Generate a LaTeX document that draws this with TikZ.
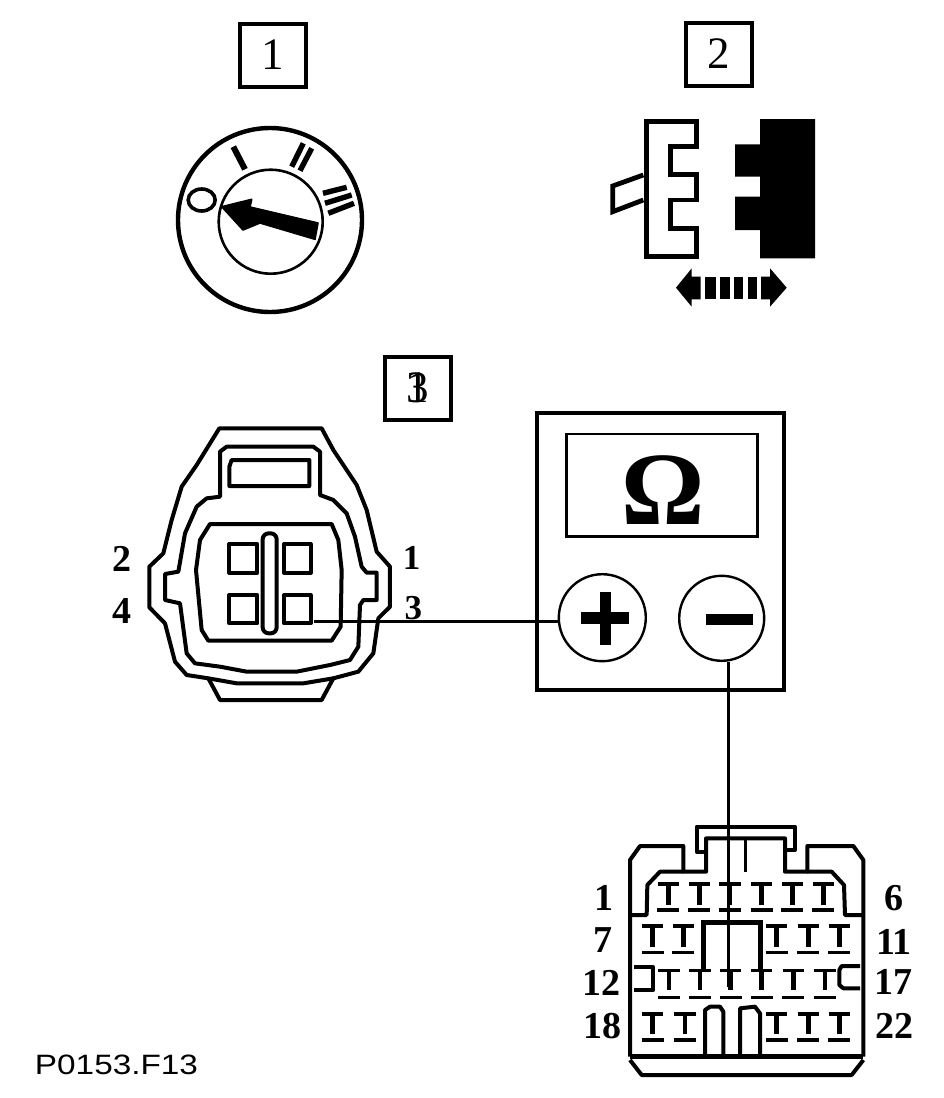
\documentclass[tikz,border=0pt]{standalone}
\usepackage{fontspec}
\setmainfont{Liberation Serif}
\newfontfamily\capfont{Liberation Sans}
\tikzset{
  x=1pt,y=-1pt,
  numbox/.style={draw,line width=4pt,minimum width=66pt,minimum height=63pt,inner sep=0pt,font=\fontsize{45}{45}\selectfont},
  boxnum/.style={inner sep=0pt,font=\fontsize{45}{45}\selectfont},
  pinlabel/.style={inner sep=0pt,font=\fontsize{38}{38}\bfseries\selectfont},
  pinlabelsmall/.style={inner sep=0pt,font=\fontsize{35}{35}\bfseries\selectfont},
  lead/.style={line width=3.6pt},
  terminal/.style={circle,draw,line width=2.4pt,inner sep=0pt},
  tbar/.style={line width=3.4pt},
  tstem/.style={line width=4.6pt},
  conn/.style={line width=4pt,line join=round},
}
\begin{document}
\begin{tikzpicture}
\useasboundingbox (0,0) rectangle (944,1098);
% --- box numbers
\node[numbox] (box1) at (272.5,55) {1};
\node[numbox] (box2) at (719,54) {2};
\node[numbox] (box3) at (417.5,388) {1};
\node[boxnum] (box3b) at (418,388) {3};

% --- step 1: key dial
\node[circle,draw,line width=4.4pt,minimum size=184pt,inner sep=0pt] (dial) at (270,220) {};
\node[circle,draw,line width=2.6pt,minimum size=104pt,inner sep=0pt] (dialhub) at (270.7,221.7) {};
\draw[line width=3.6pt] (201.7,200) ellipse [x radius=13.5,y radius=11];
\draw[line width=6pt] (233.3,146.7) -- (245,169.3);
\draw[line width=5.4pt] (303.3,143.3) -- (291.7,166.7) (311.7,148.3) -- (300,170.7);
\draw[line width=5.4pt] (323,193.3) -- (346.7,187.3) (325,203.3) -- (351.7,195) (328.3,213.3) -- (354,203.3);
\filldraw[line width=1.6pt,line join=round] (221.7,206.7) -- (251.7,199.3) -- (250,207) -- (318,223) -- (315,239.3) -- (260,223) -- (243,230) -- cycle;

% --- step 2: plug halves
\draw[line width=4.8pt,line join=miter]
  (646.7,121.7) -- (696.7,121.7) -- (696.7,146.7) -- (670.7,146.7) -- (670.7,174.3) -- (696.7,174.3)
  -- (696.7,200) -- (670.7,200) -- (670.7,228.3) -- (696.7,228.3) -- (696.7,256.7) -- (646.7,256.7) -- cycle;
\draw[line width=4.8pt] (643.3,175) -- (612.7,186) -- (612.7,211.7) -- (643.3,200);
\fill (760,119) -- (815,119) -- (815,258.3) -- (760,258.3) -- (760,230) -- (735,230) -- (735,196.7)
  -- (760,196.7) -- (760,176.7) -- (735,176.7) -- (735,144.3) -- (760,144.3) -- cycle;
% double arrow
\fill (676,287.7) -- (691.7,268.3) -- (691.7,276.7) -- (700.7,276.7) -- (700.7,299.3) -- (691.7,299.3) -- (691.7,306.7) -- cycle;
\fill (786.7,287.7) -- (770,268.3) -- (770,276.7) -- (761,276.7) -- (761,299.3) -- (770,299.3) -- (770,306.7) -- cycle;
\foreach \a/\b in {705/716,720/730,734/743,748/757}
  \fill (\a,276.7) rectangle (\b,299.3);

% --- meter
\node[draw,line width=3.8pt,minimum width=247.6pt,minimum height=277.3pt,inner sep=0pt] (meter) at (660.5,551.3) {};
\node[draw,line width=2.8pt,minimum width=190.6pt,minimum height=102.7pt,inner sep=0pt] (display) at (662,485.3) {};
\node[inner sep=0pt,font=\fontsize{104}{104}\bfseries\selectfont] (omega) at (663,490) {Ω};
\node[terminal,minimum size=87pt,fill=white] (plus) at (602.3,617.7) {};
\node[terminal,minimum size=85pt,fill=white] (minus) at (721.7,618.3) {};
\fill (581,612.3) rectangle (629,624);
\fill (600,591.7) rectangle (611,645);
\fill (706,614.3) rectangle (752.7,625);

% --- left connector (zoom coordinates)
\begin{scope}[xshift=100pt,yshift=-370pt,x=.33333pt,y=-.33333pt]
\draw[conn] (358,175) -- (665,175) -- (700,240) -- (770,345) -- (800,420) -- (830,545) -- (870,590) -- (870,710)
  -- (835,745) -- (820,850) -- (775,905) -- (700,925) -- (665,990) -- (360,990) -- (325,925) -- (260,915)
  -- (225,875) -- (195,760) -- (148,712) -- (148,590) -- (190,550) -- (215,450) -- (245,350) -- (290,285) -- cycle;
\draw[conn] (325,925) -- (410,940) -- (610,940) -- (700,925);
\draw[conn] (360,380) -- (360,245) -- (380,230) -- (640,230) -- (660,245) -- (660,375) -- (700,390) -- (740,430)
  -- (765,500) -- (785,590) -- (800,608) -- (830,608) -- (830,690) -- (790,690) -- (780,705) -- (775,830)
  -- (750,870) -- (690,885) -- (590,905) -- (440,905) -- (360,890) -- (285,880) -- (260,850) -- (240,700)
  -- (195,690) -- (195,612) -- (235,605) -- (255,490) -- (290,410) -- (320,385) -- cycle;
\draw[conn] (395,270) -- (628,270) -- (628,348) -- (388,348) -- (388,290) -- cycle;
\draw[conn] (330,462) -- (695,462) -- (715,510) -- (725,600) -- (722,770) -- (695,812) -- (325,812)
  -- (305,780) -- (288,600) -- (300,510) -- cycle;
\draw[conn] (388,522) rectangle (472,608);
\draw[conn] (552,522) rectangle (632,608);
\draw[conn] (388,675) rectangle (472,760);
\draw[conn] (552,675) rectangle (632,760);
\draw[conn,rounded corners=6pt] (488,490) rectangle (530,790);
\coordinate (pin3) at (642,755);
\node[pinlabel] (l2) at (65,568) {2};
\node[pinlabel] (l4) at (65,722) {4};
\node[pinlabelsmall] (l1) at (935,565) {1};
\node[pinlabelsmall] (l3) at (940,715) {3};
\end{scope}

% --- right connector (zoom coordinates)
\begin{scope}[xshift=570pt,yshift=-810pt,x=.33333pt,y=-.33333pt]
\draw[conn] (180,740) -- (180,150) -- (210,108) -- (340,108) -- (340,185) -- (408,185) -- (408,85) -- (645,85)
  -- (645,185) -- (712,185) -- (712,108) -- (850,108) -- (880,150) -- (880,740);
\draw[conn] (340,185) -- (270,185) -- (232,225) -- (230,315) -- (180,315);
\draw[conn] (712,185) -- (785,185) -- (822,225) -- (825,315) -- (880,315);
\draw[conn] (408,125) -- (380,125) -- (380,50) -- (675,50) -- (675,120) -- (645,120);
\draw[line width=3pt] (525,90) -- (525,185);
\draw[line width=4.6pt] (180,740) -- (880,740);
\draw[conn] (180,750) -- (215,795) -- (845,795) -- (880,750);
\draw[line width=4.4pt,line join=miter] (400,478) -- (400,338) -- (572,338) -- (572,478);
\draw[conn] (192,472) -- (250,472) -- (250,540) -- (192,540);
\draw[conn] (870,468) -- (815,468) -- (808,480) -- (808,525) -- (820,535) -- (870,535);
\draw[conn] (405,735) -- (405,600) -- (420,590) -- (450,590) -- (460,605) -- (460,735);
\draw[conn] (510,735) -- (510,595) -- (555,590) -- (570,610) -- (570,735);
\foreach \px in {295,388,480,575,667,760}{
  \draw[tbar] (\px-32,222) -- (\px+32,222);
  \draw[tstem] (\px,222) -- (\px,285);
  \draw[tbar] (\px-33,300) -- (\px+33,300);
}
\foreach \px in {248,340,620,715,808}{
  \draw[tbar] (\px-32,348) -- (\px+32,348);
  \draw[tstem] (\px,348) -- (\px,410);
  \draw[tbar] (\px-33,428) -- (\px+33,428);
}
\foreach \px in {297,390,482,575,670,765}{
  \draw[tbar] (\px-32,482) -- (\px+32,482);
  \draw[tstem] (\px,482) -- (\px,540);
  \draw[tbar] (\px-33,562) -- (\px+33,562);
}
\foreach \px in {248,345,620,715,808}{
  \draw[tbar] (\px-32,612) -- (\px+32,612);
  \draw[tstem] (\px,612) -- (\px,672);
  \draw[tbar] (\px-33,690) -- (\px+33,690);
}
\coordinate (pin15) at (475,530);
\node[pinlabel] (r1) at (103,265) {1};
\node[pinlabel] (r6) at (971,265) {6};
\node[pinlabel] (r7) at (100,390) {7};
\node[pinlabel] (r11) at (972,395) {11};
\node[pinlabel] (r12) at (94,518) {12};
\node[pinlabel] (r17) at (970,515) {17};
\node[pinlabel] (r18) at (97,648) {18};
\node[pinlabel] (r22) at (974,648) {22};
\end{scope}

% --- test leads
\draw[lead] (pin3) -- (pin3 -| plus.west);
\draw[lead] (minus.south -| pin15) -- (pin15);

% --- caption
\node[inner sep=0pt,font=\capfont\fontsize{28}{28}\selectfont,xscale=1.19,transform shape] (caption) at (116.5,1065) {P0153.F13};
\end{tikzpicture}
\end{document}
